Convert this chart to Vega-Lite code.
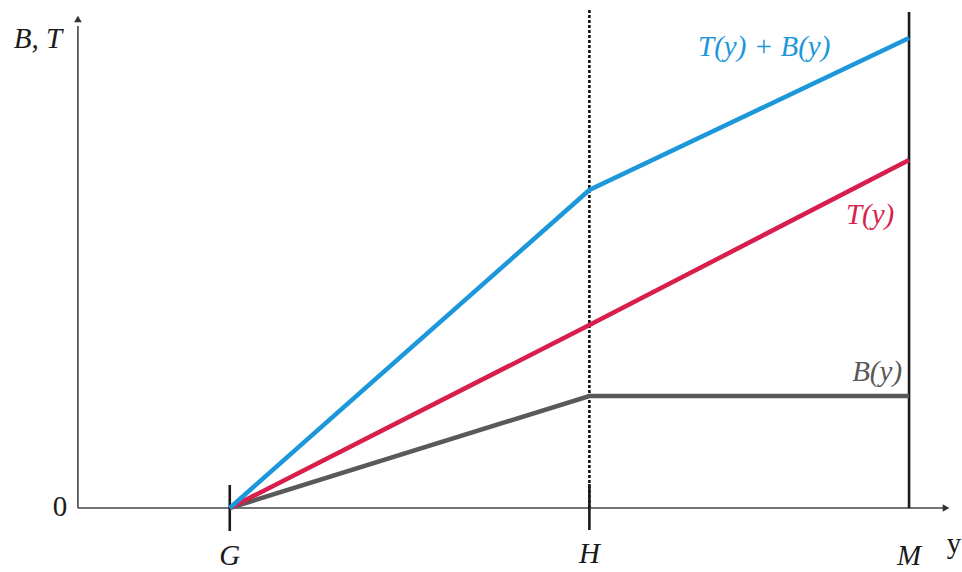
{
  "$schema": "https://vega.github.io/schema/vega-lite/v6.json",
  "width": 962,
  "height": 572,
  "padding": 0,
  "autosize": {"type": "fit", "contains": "padding"},
  "background": "white",
  "config": {"view": {"stroke": null}},
  "datasets": {
    "curves": [
      {"series": "B(y)", "y": 15.2, "v": 0},
      {"series": "B(y)", "y": 51.2, "v": 11.2},
      {"series": "B(y)", "y": 83.2, "v": 11.2},
      {"series": "T(y)", "y": 15.2, "v": 0},
      {"series": "T(y)", "y": 51.2, "v": 18.3},
      {"series": "T(y)", "y": 83.2, "v": 34.8},
      {"series": "T(y) + B(y)", "y": 15.2, "v": 0},
      {"series": "T(y) + B(y)", "y": 51.2, "v": 31.8},
      {"series": "T(y) + B(y)", "y": 83.2, "v": 47.0}
    ],
    "axes": [
      {"x": 0, "y": 0, "x2": 0, "y2": 48.2},
      {"x": 0, "y": 0, "x2": 86.6, "y2": 0}
    ],
    "solid": [
      {"x": 83.2, "y": 0, "x2": 83.2, "y2": 49.6},
      {"x": 15.2, "y": -2.3, "x2": 15.2, "y2": 2.3},
      {"x": 51.2, "y": -2.2, "x2": 51.2, "y2": 2.4}
    ],
    "dashed": [
      {"x": 51.2, "y": 0, "x2": 51.2, "y2": 49.9}
    ],
    "arrowUp": [{"x": 0, "y": 48.9}],
    "arrowRight": [{"x": 86.9, "y": 0}],
    "italicLabels": [
      {"x": -4.0, "y": 46.9, "text": "B, T", "series": "axis"},
      {"x": 15.2, "y": -4.8, "text": "G", "series": "axis"},
      {"x": 51.2, "y": -4.6, "text": "H", "series": "axis"},
      {"x": 83.2, "y": -4.8, "text": "M", "series": "axis"},
      {"x": 68.7, "y": 46.1, "text": "T(y) + B(y)", "series": "T(y) + B(y)"},
      {"x": 79.3, "y": 29.3, "text": "T(y)", "series": "T(y)"},
      {"x": 80.0, "y": 13.6, "text": "B(y)", "series": "B(y)"}
    ],
    "plainLabels": [
      {"x": -1.8, "y": 0.1, "text": "0", "series": "axis"},
      {"x": 87.7, "y": -3.6, "text": "y", "series": "axis"}
    ]
  },
  "encoding": {},
  "layer": [
    {
      "data": {"name": "axes"},
      "mark": {"type": "rule", "color": "#444444", "strokeWidth": 1.6},
      "encoding": {
        "x": {"field": "x", "type": "quantitative", "scale": {"domain": [-7.8, 88.4], "nice": false, "zero": false}, "axis": null},
        "y": {"field": "y", "type": "quantitative", "scale": {"domain": [-6.4, 50.8], "nice": false, "zero": false}, "axis": null},
        "x2": {"field": "x2"},
        "y2": {"field": "y2"}
      }
    },
    {
      "data": {"name": "dashed"},
      "mark": {"type": "rule", "color": "#111111", "strokeWidth": 2.6, "strokeDash": [3, 2]},
      "encoding": {
        "x": {"field": "x", "type": "quantitative", "axis": null},
        "y": {"field": "y", "type": "quantitative", "axis": null},
        "x2": {"field": "x2"},
        "y2": {"field": "y2"}
      }
    },
    {
      "data": {"name": "solid"},
      "mark": {"type": "rule", "color": "#1a1a1a", "strokeWidth": 2.6},
      "encoding": {
        "x": {"field": "x", "type": "quantitative", "axis": null},
        "y": {"field": "y", "type": "quantitative", "axis": null},
        "x2": {"field": "x2"},
        "y2": {"field": "y2"}
      }
    },
    {
      "data": {"name": "curves"},
      "mark": {"type": "line", "strokeWidth": 4.5, "strokeJoin": "miter"},
      "encoding": {
        "x": {"field": "y", "type": "quantitative", "axis": null},
        "y": {"field": "v", "type": "quantitative", "axis": null},
        "color": {
          "field": "series", "type": "nominal", "legend": null,
          "scale": {"domain": ["T(y) + B(y)", "T(y)", "B(y)", "axis"], "range": ["#1b97da", "#d81e4c", "#595959", "#1a1a1a"]}
        },
        "order": {"field": "y", "type": "quantitative"}
      }
    },
    {
      "data": {"name": "arrowUp"},
      "mark": {"type": "point", "shape": "triangle-up", "filled": true, "size": 60, "color": "#333333", "opacity": 1},
      "encoding": {
        "x": {"field": "x", "type": "quantitative", "axis": null},
        "y": {"field": "y", "type": "quantitative", "axis": null}
      }
    },
    {
      "data": {"name": "arrowRight"},
      "mark": {"type": "point", "shape": "triangle-right", "filled": true, "size": 60, "color": "#333333", "opacity": 1},
      "encoding": {
        "x": {"field": "x", "type": "quantitative", "axis": null},
        "y": {"field": "y", "type": "quantitative", "axis": null}
      }
    },
    {
      "data": {"name": "italicLabels"},
      "mark": {"type": "text", "font": "Liberation Serif", "fontStyle": "italic", "fontSize": 29, "align": "center", "baseline": "middle"},
      "encoding": {
        "x": {"field": "x", "type": "quantitative", "axis": null},
        "y": {"field": "y", "type": "quantitative", "axis": null},
        "text": {"field": "text"},
        "color": {"field": "series", "type": "nominal", "legend": null}
      }
    },
    {
      "data": {"name": "plainLabels"},
      "mark": {"type": "text", "font": "Liberation Serif", "fontSize": 29, "align": "center", "baseline": "middle"},
      "encoding": {
        "x": {"field": "x", "type": "quantitative", "axis": null},
        "y": {"field": "y", "type": "quantitative", "axis": null},
        "text": {"field": "text"},
        "color": {"field": "series", "type": "nominal", "legend": null}
      }
    }
  ]
}
